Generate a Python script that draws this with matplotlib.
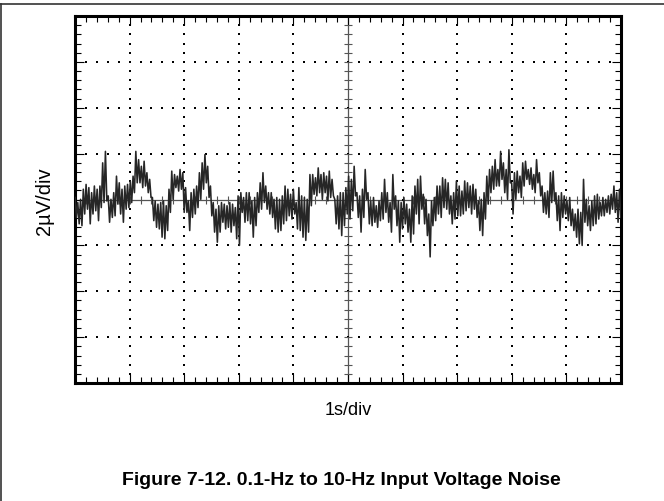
import numpy as np
import matplotlib
matplotlib.use("Agg")
import matplotlib.pyplot as plt
from matplotlib.lines import Line2D

plt.rcParams['font.family'] = ['Liberation Sans', 'DejaVu Sans']

# trace, in uV, high/low pairs, 2 s per block
block_0_2s = [0.09, -0.78, -0.13, -1.06, 0.01, -1.14, 0.45, -0.63, 0.66, -0.42,
              0.52, -1.06, 0.30, -0.63, 0.59, -0.49, 0.45, -0.92, 0.59, -0.35,
              1.60, -0.13, 2.10, -0.06, 0.16, -0.99, 0.01, -0.78, 0.30, -0.71,
              1.02, -0.20, 0.73, -0.63, 0.45, -0.99, 0.59, -0.42, 0.66, -0.35,
              0.81, -0.13, 1.02, 0.30, 2.10, 0.73, 1.74, 0.73, 1.45, 0.52,
              1.67, 0.59, 1.17, 0.30, 0.88, 0.09, 0.09, -0.92, -0.06, -1.21,
              -0.20, -1.28, -0.13, -1.64, -0.06, -1.71, -0.27, -1.35, 0.45, -0.56,
              1.24, 0.01, 1.09, 0.52, 1.02, 0.37, 1.31, 0.45, 1.17, -0.56]
block_2_4s = [0.52, -0.56, -0.06, -1.35, 0.30, -0.78, 0.45, -0.63, 0.59, -0.35,
              1.17, 0.01, 1.60, 0.45, 1.96, 0.73, 1.45, 0.09, 0.59, -0.71,
              -0.13, -1.42, -0.42, -1.86, -0.27, -1.42, -0.13, -0.99, -0.20, -1.28,
              -0.27, -1.21, -0.13, -1.42, -0.20, -1.14, -0.35, -1.71, 0.16, -2.00,
              0.30, -0.56, 0.09, -0.99, 0.30, -0.92, 0.30, -1.06, -0.06, -1.64,
              0.09, -1.14, 0.30, -0.56, 0.73, -0.42, 1.17, -0.13, 0.59, -0.42,
              0.30, -0.63, 0.30, -0.78, 0.01, -1.28, 0.09, -1.42, 0.01, -1.35,
              0.16, -1.06, 0.59, -0.92, 0.45, -0.71, 0.23, -0.85, 0.45, -0.63]
block_4_6s = [-0.13, -1.28, 0.52, -1.35, 0.16, -1.64, 0.09, -1.78, 0.01, -1.42,
              1.09, -0.27, 1.09, 0.23, 0.95, 0.16, 1.38, 0.30, 1.09, 0.01,
              1.17, 0.30, 1.02, -0.06, 1.24, 0.09, 0.88, 0.16, 0.01, -1.06,
              0.16, -1.28, 0.30, -1.57, 0.30, -1.14, 0.52, -0.63, 1.02, -0.85,
              0.88, -0.49, 1.45, 0.16, 0.30, -0.78, 0.16, -1.42, 0.45, -0.78,
              1.31, 0.01, 0.30, -1.06, -0.06, -1.14, 0.09, -0.99, -0.27, -1.21,
              -0.06, -0.92, 0.30, -0.85, 0.88, -0.56, 0.30, -0.99, -0.13, -1.42,
              1.09, -0.42, 0.16, -1.14, -0.06, -1.86, -0.13, -1.28, 0.09, -1.06]
block_6_8s = [-0.20, -1.42, -0.42, -1.86, 0.16, -1.50, 0.59, -0.63, 0.88, -1.06,
              1.02, -0.42, 0.23, -1.06, 0.01, -1.57, -0.63, -2.50, -0.06, -1.14,
              0.09, -0.92, 0.59, -0.63, 0.59, -0.78, 0.95, -0.35, 0.88, -0.42,
              0.73, -0.63, 0.16, -1.06, 0.30, -0.85, 0.81, -0.71, 0.59, -0.71,
              0.37, -0.63, 0.81, -0.49, 0.73, -0.35, 0.59, -0.63, 0.66, -0.42,
              0.45, -0.78, -0.06, -1.35, 0.01, -1.57, 0.30, -0.85, 1.02, -0.20,
              1.31, 0.30, 1.45, 0.45, 1.74, 0.59, 1.31, 0.59, 2.10, 0.88,
              1.60, 0.30, 1.31, 0.01, 2.17, 0.73, 0.73, -0.63, 1.17, 0.01]
block_8_10s = [1.24, 0.30, 1.02, 0.09, 1.60, 0.59, 1.67, 0.88, 1.31, 0.66,
               1.38, 0.45, 1.09, 0.30, 1.74, 0.73, 1.17, 0.16, 0.59, -0.56,
               0.30, -0.63, 0.37, -0.78, 1.17, -0.13, 1.24, -0.06, 0.30, -0.92,
               0.16, -1.35, 0.30, -0.78, 0.16, -0.63, -0.06, -0.92, 0.09, -1.14,
               -0.42, -1.35, -0.63, -1.64, -0.42, -1.93, -0.56, -2.00, 0.88, -0.99,
               0.01, -1.14, -0.27, -1.35, -0.06, -1.14, 0.16, -1.06, 0.23, -0.85,
               -0.13, -0.71, 0.09, -0.71, 0.01, -0.56, 0.16, -0.63, 0.23, -0.42,
               0.59, -0.56, 0.30, -0.99, 0.45, -0.78]

noise_uv = np.array(block_0_2s + block_2_4s + block_4_6s + block_6_8s + block_8_10s)
t = np.linspace(0, 10, len(noise_uv))

fig = plt.figure(figsize=(6.64, 5.02), dpi=100)
ax = fig.add_axes([0.113, 0.235, 0.822, 0.731])
ax.set_xlim(0, 10)
ax.set_ylim(-8, 8)

# graticule: dotted grid, solid centre lines with small ticks
gx_minor = np.arange(0, 10.001, 0.2)
gy_minor = np.arange(-8, 8.001, 0.4)
for gx in range(1, 10):
    if gx == 5:
        continue
    ax.plot(np.full_like(gy_minor, gx), gy_minor, ls='none', marker='s',
            ms=1.5, color='k', mew=0)
for gy in [-6, -4, -2, 2, 4, 6]:
    ax.plot(gx_minor, np.full_like(gx_minor, gy), ls='none', marker='s',
            ms=1.5, color='k', mew=0)
ax.axhline(0, color='#555555', lw=0.9, zorder=1)
ax.axvline(5, color='#555555', lw=0.9, zorder=1)
ax.plot(gx_minor, np.zeros_like(gx_minor), ls='none', marker='|', ms=6,
        mew=0.8, color='#555555')
ax.plot(np.full_like(gy_minor, 5), gy_minor, ls='none', marker='_', ms=6,
        mew=0.8, color='#555555')

ax.plot(t, noise_uv, color='#262626', lw=1.15, zorder=3)

ax.set_xticks(np.arange(0, 11, 1))
ax.set_xticks(gx_minor, minor=True)
ax.set_yticks(np.arange(-8, 9, 2))
ax.set_yticks(gy_minor, minor=True)
ax.tick_params(which='both', direction='in', top=True, right=True,
               labelbottom=False, labelleft=False, color='k', width=0.8)
ax.tick_params(which='major', length=6.5)
ax.tick_params(which='minor', length=4.3)
for sp in ax.spines.values():
    sp.set_linewidth(2.2)

fig.text(0.524, 0.183, '1s/div', ha='center', va='center', fontsize=13)
fig.text(0.067, 0.600, '2\u00b5V/div', ha='center', va='center',
         rotation=90, fontsize=14.5)
fig.text(0.514, 0.042, 'Figure 7-12. 0.1-Hz to 10-Hz Input Voltage Noise',
         ha='center', va='center', fontsize=14, fontweight='bold')

fig.add_artist(Line2D([0, 1], [0.990, 0.990], color='#333333', lw=1.2))
fig.add_artist(Line2D([0.0015, 0.0015], [0, 0.990], color='#333333', lw=1.2))

fig.savefig('out.png', dpi=100)
